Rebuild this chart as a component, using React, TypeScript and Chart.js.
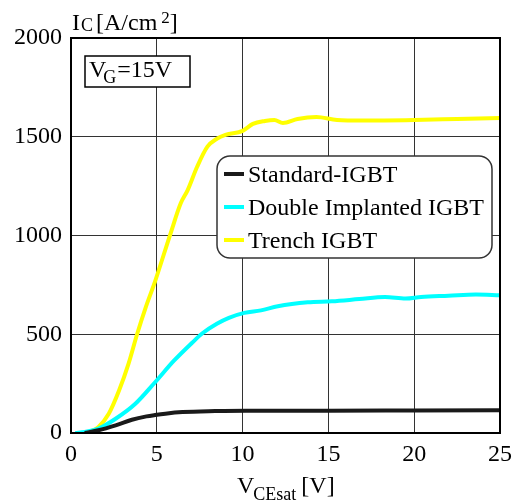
import React, { useEffect, useRef } from "react";
import { Chart, registerables } from "chart.js";

Chart.register(...registerables);

// ---- data ----
const standardV = [0.8, 1.6, 2.6, 3.55, 4.4, 4.9, 5.5, 6.5, 8.4, 10.2, 15, 20, 25];
const standardI = [0, 14, 39, 67, 84, 91, 98, 106, 111, 113, 113, 114, 115];

const doubleV = [0.25, 0.8, 1.6, 2.6, 3.75, 4.9, 6.0, 7.07, 7.66, 8.5, 9.2, 10.1, 11.07, 12.05, 13.8, 15.2, 16.8, 18.3, 19.5, 20.4, 22, 23.6, 25];
const doubleI = [0, 5, 22, 72, 148, 257, 366, 458, 505, 553, 583, 608, 621, 642, 662, 667, 678, 688, 681, 689, 695, 701, 698];

const trenchV = [0.8, 1.2, 1.6, 2.2, 2.8, 3.35, 3.85, 4.35, 4.9, 5.8, 6.4, 6.8, 7.35, 7.95, 8.5, 9.0, 10.0, 10.6, 11.3, 11.85, 12.35, 13.2, 14.3, 15.5, 17, 20, 22.5, 25];
const trenchI = [0, 10, 30, 97, 215, 350, 500, 635, 768, 1010, 1164, 1230, 1348, 1450, 1490, 1510, 1530, 1565, 1580, 1585, 1570, 1590, 1600, 1585, 1582, 1585, 1590, 1595];

const xTickValues = [0, 5, 10, 15, 20, 25];
const yTickValues = [0, 500, 1000, 1500, 2000];

const seriesLabels = ["Standard-IGBT", "Double Implanted IGBT", "Trench IGBT"];
const seriesColors = ["#1a1a1a", "#00ffff", "#ffff00"];

const FONT = '"Liberation Serif", "Times New Roman", Times, serif';

type Part = { t: string; size: number; dy?: number; gap?: number };

function drawRich(ctx: CanvasRenderingContext2D, x: number, baseline: number, parts: Part[]) {
  ctx.save();
  ctx.fillStyle = "#000";
  ctx.textBaseline = "alphabetic";
  ctx.textAlign = "left";
  let cx = x;
  for (const p of parts) {
    ctx.font = `${p.size}px ${FONT}`;
    ctx.fillText(p.t, cx, baseline + (p.dy || 0));
    cx += ctx.measureText(p.t).width + (p.gap || 0);
  }
  ctx.restore();
}

function roundRect(ctx: CanvasRenderingContext2D, x: number, y: number, w: number, h: number, r: number) {
  ctx.beginPath();
  ctx.moveTo(x + r, y);
  ctx.lineTo(x + w - r, y);
  ctx.arcTo(x + w, y, x + w, y + r, r);
  ctx.lineTo(x + w, y + h - r);
  ctx.arcTo(x + w, y + h, x + w - r, y + h, r);
  ctx.lineTo(x + r, y + h);
  ctx.arcTo(x, y + h, x, y + h - r, r);
  ctx.lineTo(x, y + r);
  ctx.arcTo(x, y, x + r, y, r);
  ctx.closePath();
}

const overlayPlugin = {
  id: "overlay",
  afterDatasetsDraw(chart: any) {
    const ctx: CanvasRenderingContext2D = chart.ctx;
    const ca = chart.chartArea;
    // frame
    ctx.save();
    ctx.strokeStyle = "#000";
    ctx.lineWidth = 2;
    ctx.strokeRect(ca.left, ca.top, ca.right - ca.left, ca.bottom - ca.top);
    ctx.restore();

    // V_G = 15V box
    ctx.save();
    ctx.fillStyle = "#fff";
    ctx.strokeStyle = "#000";
    ctx.lineWidth = 1.5;
    ctx.fillRect(ca.left + 14, ca.top + 18, 105, 31);
    ctx.strokeRect(ca.left + 14, ca.top + 18, 105, 31);
    ctx.restore();
    drawRich(ctx, ca.left + 18, ca.top + 39, [
      { t: "V", size: 24, gap: -3 },
      { t: "G", size: 18, dy: 6, gap: 1 },
      { t: "=15V", size: 24 },
    ]);

    // legend
    const lx = ca.left + 146;
    const ly = ca.top + 118;
    ctx.save();
    roundRect(ctx, lx, ly, 275, 102, 13);
    ctx.fillStyle = "#fff";
    ctx.fill();
    ctx.strokeStyle = "#333";
    ctx.lineWidth = 1.5;
    ctx.stroke();
    chart.data.datasets.forEach((ds: any, i: number) => {
      const rowY = ly + 18 + i * 33;
      ctx.strokeStyle = ds.borderColor;
      ctx.lineWidth = 4;
      ctx.beginPath();
      ctx.moveTo(lx + 7, rowY);
      ctx.lineTo(lx + 27, rowY);
      ctx.stroke();
      ctx.fillStyle = "#000";
      ctx.font = `24px ${FONT}`;
      ctx.textBaseline = "alphabetic";
      ctx.textAlign = "left";
      ctx.fillText(ds.label, lx + 31, rowY + 8);
    });
    ctx.restore();
  },
  afterDraw(chart: any) {
    const ctx: CanvasRenderingContext2D = chart.ctx;
    const ca = chart.chartArea;
    // y title
    drawRich(ctx, ca.left + 1, ca.top - 8, [
      { t: "I", size: 24, gap: 1 },
      { t: "C", size: 18, dy: 1, gap: 3 },
      { t: "[A/cm", size: 24, gap: 4 },
      { t: "2", size: 17, dy: -7 },
      { t: "]", size: 24 },
    ]);
    // x title
    drawRich(ctx, 237, chart.height - 9, [
      { t: "V", size: 24, gap: -1 },
      { t: "CEsat", size: 18, dy: 7, gap: 5 },
      { t: "[V]", size: 24 },
    ]);
  },
};

function pts(xs: number[], ys: number[]) {
  return xs.map((x, i) => ({ x, y: ys[i] }));
}

export default function App() {
  const ref = useRef<HTMLCanvasElement | null>(null);

  useEffect(() => {
    if (!ref.current) return;
    const series = [
      pts(standardV, standardI),
      pts(doubleV, doubleI),
      pts(trenchV, trenchI),
    ];
    const chart = new Chart(ref.current, {
      type: "line",
      data: {
        datasets: series.map((d, i) => ({
          label: seriesLabels[i],
          data: d,
          borderColor: seriesColors[i],
          backgroundColor: seriesColors[i],
          borderWidth: 4,
          pointRadius: 0,
          fill: false,
          cubicInterpolationMode: "monotone" as const,
        })),
      },
      options: {
        responsive: false,
        animation: false,
        events: [],
        layout: { padding: { left: 0, right: 21, top: 38, bottom: 0 } },
        plugins: {
          legend: { display: false },
          tooltip: { enabled: false },
        },
        scales: {
          x: {
            type: "linear",
            min: 0,
            max: 25,
            afterBuildTicks: (s: any) => {
              s.ticks = xTickValues.map((v) => ({ value: v }));
            },
            afterFit: (s: any) => {
              s.height = 69;
            },
            grid: { color: "#333", lineWidth: 1, drawTicks: false },
            border: { display: false },
            ticks: {
              color: "#000",
              font: { family: FONT, size: 24 },
              padding: 7,
              maxRotation: 0,
              autoSkip: false,
              callback: (v: any) => String(v),
            },
          },
          y: {
            type: "linear",
            min: 0,
            max: 2000,
            afterBuildTicks: (s: any) => {
              s.ticks = yTickValues.map((v) => ({ value: v }));
            },
            afterFit: (s: any) => {
              s.width = 71;
            },
            grid: { color: "#333", lineWidth: 1, drawTicks: false },
            border: { display: false },
            ticks: {
              color: "#000",
              font: { family: FONT, size: 24 },
              padding: 9,
              autoSkip: false,
              callback: (v: any) => String(v),
            },
          },
        },
      },
      plugins: [overlayPlugin],
    });
    return () => chart.destroy();
  }, []);

  return (
    <div style={{ position: "absolute", left: 0, top: 0, width: 521, height: 502, background: "#fff" }}>
      <canvas ref={ref} width={521} height={502} style={{ display: "block" }} />
    </div>
  );
}
